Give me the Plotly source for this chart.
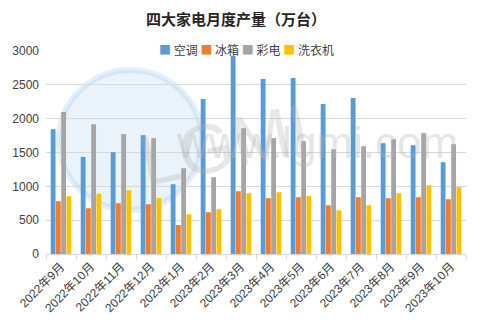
import plotly.graph_objects as go

# Monthly output of four major home appliances (10k units)
months = ["2022年9月", "2022年10月", "2022年11月", "2022年12月", "2023年1月",
          "2023年2月", "2023年3月", "2023年4月", "2023年5月", "2023年6月",
          "2023年7月", "2023年8月", "2023年9月", "2023年10月"]
air_con = [1845, 1436, 1505, 1756, 1031, 2289, 2930, 2585, 2600, 2215, 2304, 1638, 1608, 1357]
fridge = [780, 676, 750, 735, 429, 617, 927, 824, 839, 720, 839, 824, 839, 809]
tv = [2097, 1919, 1771, 1712, 1268, 1135, 1860, 1712, 1667, 1549, 1593, 1697, 1786, 1623]
washer = [853, 890, 942, 829, 587, 661, 898, 913, 858, 646, 720, 898, 1016, 987]

series = [("空调", air_con, "#5B9BD5"), ("冰箱", fridge, "#ED7D31"),
          ("彩电", tv, "#A5A5A5"), ("洗衣机", washer, "#FFC000")]

W, H = 481, 330
ML, MR, MT, MB = 43, 15, 51, 76
FONT = "Liberation Sans, Noto Sans CJK SC, sans-serif"

fig = go.Figure()
for name, vals, color in series:
    fig.add_trace(go.Bar(x=months, y=vals, name=name, marker_color=color,
                         marker_line_width=0, showlegend=False))

# Compact legend line
legend_html = "&nbsp;".join(
    f"<span style='color:{c}'>■</span> {n}" for n, _, c in series)


def px_x(px):
    return (px - ML) / (W - ML - MR)


def px_y(py):
    return 1 - (py - MT) / (H - MT - MB)


annotations = [
    # faint site watermark
    dict(text="LGMI", x=px_x(128), y=px_y(145), xref="paper", yref="paper",
         showarrow=False, font=dict(size=70, color="rgba(175,175,175,0.30)",
                                    family="Liberation Sans Narrow, Liberation Sans"),
         textangle=-12),
    dict(text="www.lgmi.com", x=px_x(316), y=px_y(142), xref="paper", yref="paper",
         showarrow=False, font=dict(size=44, color="rgba(180,180,180,0.35)",
                                    family="Liberation Sans Narrow, Liberation Sans")),
    dict(text=legend_html, x=px_x(245), y=px_y(49), xref="paper", yref="paper",
         xanchor="center", yanchor="middle", showarrow=False,
         font=dict(size=12, color="#404040", family="Noto Sans CJK SC")),
]

shapes = [
    dict(type="circle", xref="paper", yref="paper", layer="below",
         x0=px_x(56), x1=px_x(200), y0=px_y(210), y1=px_y(70),
         fillcolor="rgba(91,155,213,0.12)", line=dict(color="rgba(91,155,213,0.16)", width=6)),
]

fig.update_layout(
    width=W, height=H,
    margin=dict(l=ML, r=MR, t=MT, b=MB),
    paper_bgcolor="white", plot_bgcolor="white",
    title=dict(text="<b>四大家电月度产量（万台）</b>", x=236 / W, xanchor="center",
               y=1 - 20 / H, yanchor="middle", yref="container",
               font=dict(size=15, color="#262626", family="Noto Sans CJK SC")),
    barmode="group", bargap=0.3, bargroupgap=0.08,
    font=dict(family=FONT, color="#404040"),
    annotations=annotations, shapes=shapes,
)
fig.update_xaxes(tickangle=-45, tickfont=dict(size=12, color="#404040"),
                 showline=True, linecolor="#D9D9D9", linewidth=1,
                 ticks="outside", tickson="boundaries", ticklen=5, tickcolor="#D9D9D9",
                 showgrid=False)
fig.update_yaxes(range=[0, 3000], dtick=500, tickfont=dict(size=12, color="#404040"),
                 showgrid=True, gridcolor="#D9D9D9", gridwidth=1,
                 zeroline=False, ticks="", ticklabelstandoff=6)

fig.write_html("out.html")
